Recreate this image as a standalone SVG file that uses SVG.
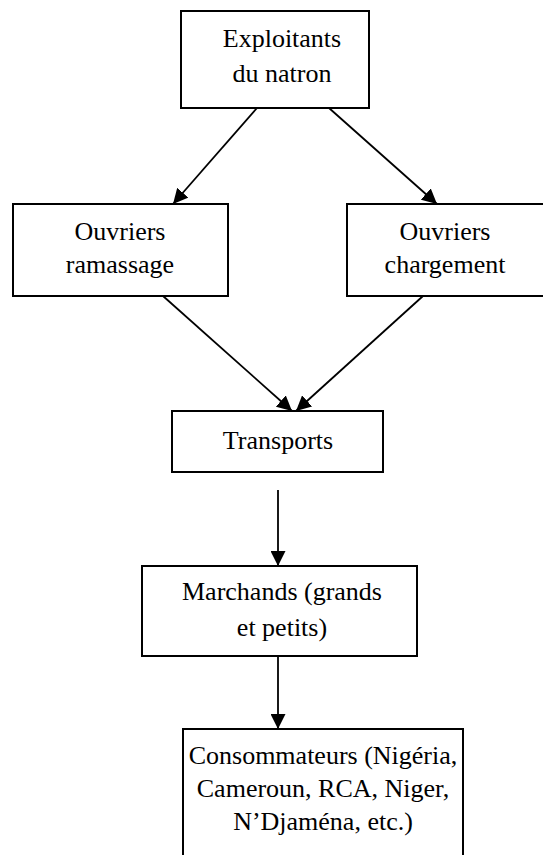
<svg xmlns="http://www.w3.org/2000/svg" width="543" height="855" viewBox="0 0 543 855">
<style>
.box{fill:#fff;stroke:#000;stroke-width:2}
.t{font-family:"Liberation Serif","Times New Roman",serif;font-size:26px;fill:#000;text-anchor:middle}
.c{stroke:#000;stroke-width:1.8;fill:none;marker-end:url(#ah)}
</style>
<defs>
<marker id="ah" viewBox="0 0 10 10" refX="10" refY="5" markerUnits="userSpaceOnUse" markerWidth="15" markerHeight="15" orient="auto">
<path d="M0,0 L10,5 L0,10 z" fill="#000"/>
</marker>
</defs>
<rect width="543" height="855" fill="#fff"/>
<g id="connectors">
<line class="c" x1="257" y1="108" x2="173" y2="204"/>
<line class="c" x1="329" y1="108" x2="437" y2="204"/>
<line class="c" x1="163" y1="296" x2="292" y2="411"/>
<line class="c" x1="423" y1="296" x2="296" y2="411"/>
<line class="c" x1="278" y1="490" x2="278" y2="566"/>
<line class="c" x1="278" y1="656" x2="278" y2="729"/>
</g>
<g id="exploitants">
<rect class="box" x="181" y="11" width="188" height="97"/>
<text class="t" x="282" y="47">Exploitants</text>
<text class="t" x="282" y="82">du natron</text>
</g>
<g id="ramassage">
<rect class="box" x="13" y="204" width="215" height="92"/>
<text class="t" x="120" y="240">Ouvriers</text>
<text class="t" x="120" y="273">ramassage</text>
</g>
<g id="chargement">
<rect class="box" x="347" y="204" width="200" height="92"/>
<text class="t" x="445" y="240">Ouvriers</text>
<text class="t" x="445" y="273">chargement</text>
</g>
<g id="transports">
<rect class="box" x="172" y="411" width="211" height="61"/>
<text class="t" x="278" y="449">Transports</text>
</g>
<g id="marchands">
<rect class="box" x="142" y="566" width="275" height="90"/>
<text class="t" x="282" y="600">Marchands (grands</text>
<text class="t" x="282" y="636">et petits)</text>
</g>
<g id="consommateurs">
<rect class="box" x="183" y="729" width="280" height="140"/>
<text class="t" x="323" y="764">Consommateurs (Nigéria,</text>
<text class="t" x="323" y="797">Cameroun, RCA, Niger,</text>
<text class="t" x="323" y="830">N’Djaména, etc.)</text>
</g>
</svg>
